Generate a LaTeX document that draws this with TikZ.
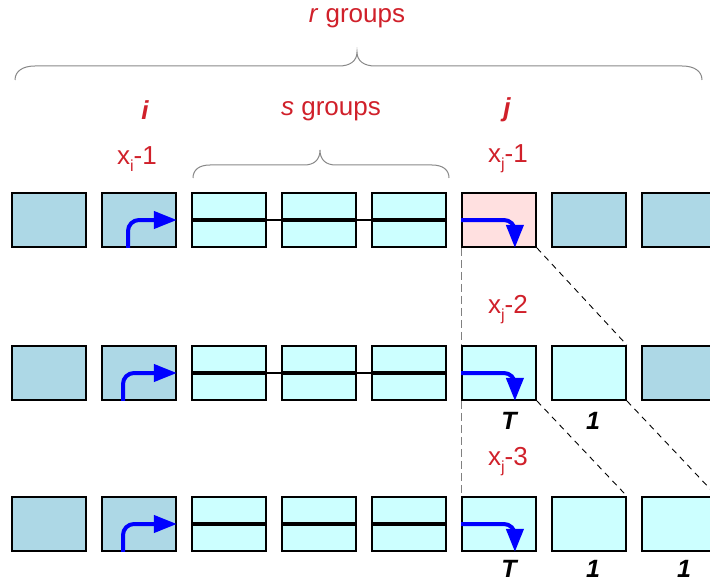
\documentclass[tikz,border=0pt]{standalone}
\usepackage{fontspec}
\setmainfont{Liberation Sans}
\usepackage{tikz}
\usetikzlibrary{positioning,arrows.meta}
\definecolor{cellblue}{HTML}{ADD8E6}
\definecolor{cellcyan}{HTML}{CCFFFF}
\definecolor{cellpink}{HTML}{FFE0E0}
\definecolor{labelred}{HTML}{D0202A}
\definecolor{bracegray}{HTML}{888888}
\tikzset{
  flowarrow/.style={-{Triangle[length=23pt, width=17pt]}, line width=4pt, blue, rounded corners=11pt},
  darkcell/.style={draw, line width=1.8pt, fill=cellblue, minimum width=74pt, minimum height=54pt, inner sep=0pt},
  lightcell/.style={draw, line width=1.8pt, fill=cellcyan, minimum width=74pt, minimum height=54pt, inner sep=0pt},
  markcell/.style={draw, line width=1.8pt, fill=cellpink, minimum width=74pt, minimum height=54pt, inner sep=0pt},
  linkbar/.style={line width=4pt},
  linkthin/.style={line width=2pt},
  grouplabel/.style={text=labelred, font=\fontsize{26}{30}\selectfont, inner sep=0pt},
  countlabel/.style={font=\fontsize{25}{30}\selectfont\bfseries\itshape, inner sep=0pt},
  bracepath/.style={bracegray, line width=1pt},
  vguide/.style={gray, dashed, dash pattern=on 8pt off 4pt, line width=1.1pt},
  dguide/.style={black, dash pattern=on 6pt off 5pt, line width=0.9pt}
}
\newcommand{\xsub}[1]{x\raisebox{-7pt}{\fontsize{16}{16}\selectfont #1}}

\begin{document}
\begin{tikzpicture}[x=1pt, y=-1pt]
  \useasboundingbox (0,0) rectangle (710,583);
  % labels on top
  \node[grouplabel] (rg) at (357,18) {\textit{r} groups};
  \draw[bracepath] (15,80) .. controls (15,71) and (23,66) .. (35,66) -- (339,66)
    .. controls (350,66) and (357,61) .. (357,52) .. controls (357,61) and (364,66) .. (375,66)
    -- (682,66) .. controls (694,66) and (702,71) .. (702,80);
  \node[grouplabel, font=\fontsize{26}{30}\selectfont\bfseries\itshape] (li) at (145,110) {i};
  \node[grouplabel] (sg) at (331,111) {\textit{s} groups};
  \node[grouplabel, font=\fontsize{26}{30}\selectfont\bfseries\itshape] (lj) at (507,110) {j};
  \node[grouplabel] (xi1) at (137,159) {\xsub{i}-1};
  \node[grouplabel] (xj1) at (508,159) {\xsub{j}-1};
  \draw[bracepath] (193,178) .. controls (193,170) and (199,165) .. (210,165) -- (304,165)
    .. controls (314,165) and (320,160) .. (320,150) .. controls (320,160) and (326,165) .. (336,165)
    -- (432,165) .. controls (443,165) and (449,170) .. (449,178);

  % row a
  \node[darkcell] (a1) at (49,220) {};
  \node[darkcell] (a2) at (139,220) {};
  \node[lightcell] (a3) at (229,220) {};
  \node[lightcell] (a4) at (319,220) {};
  \node[lightcell] (a5) at (409,220) {};
  \node[markcell] (a6) at (499,220) {};
  \node[darkcell] (a7) at (589,220) {};
  \node[darkcell] (a8) at (679,220) {};
  \draw[linkthin] (a3.west) -- (a5.east);
  \draw[linkbar] (a3.west) -- (a3.east);
  \draw[linkbar] (a4.west) -- (a4.east);
  \draw[linkbar] (a5.west) -- (a5.east);
  \draw[flowarrow] ([xshift=-11pt]a2.south) |- (a2.east);
  \draw[flowarrow] (a6.west) -| ([xshift=-22pt]a6.south east);

  % row b
  \node[grouplabel] (xj2) at (508,310) {\xsub{j}-2};
  \node[darkcell] (b1) at (49,373) {};
  \node[darkcell] (b2) at (139,373) {};
  \node[lightcell] (b3) at (229,373) {};
  \node[lightcell] (b4) at (319,373) {};
  \node[lightcell] (b5) at (409,373) {};
  \node[lightcell] (b6) at (499,373) {};
  \node[lightcell] (b7) at (589,373) {};
  \node[darkcell] (b8) at (679,373) {};
  \draw[linkthin] (b3.west) -- (b5.east);
  \draw[linkbar] (b3.west) -- (b3.east);
  \draw[linkbar] (b4.west) -- (b4.east);
  \draw[linkbar] (b5.west) -- (b5.east);
  \draw[flowarrow] ([xshift=-16pt]b2.south) |- (b2.east);
  \draw[flowarrow] (b6.west) -| ([xshift=-22pt]b6.south east);
  \node[countlabel] (tb) at (509,421) {T};
  \node[countlabel] (ob) at (593,421) {1};

  % row c
  \node[grouplabel] (xj3) at (508,462) {\xsub{j}-3};
  \node[darkcell] (c1) at (49,524) {};
  \node[darkcell] (c2) at (139,524) {};
  \node[lightcell] (c3) at (229,524) {};
  \node[lightcell] (c4) at (319,524) {};
  \node[lightcell] (c5) at (409,524) {};
  \node[lightcell] (c6) at (499,524) {};
  \node[lightcell] (c7) at (589,524) {};
  \node[lightcell] (c8) at (679,524) {};
  \draw[linkbar] (c3.west) -- (c3.east);
  \draw[linkbar] (c4.west) -- (c4.east);
  \draw[linkbar] (c5.west) -- (c5.east);
  \draw[flowarrow] ([xshift=-16pt]c2.south) |- (c2.east);
  \draw[flowarrow] (c6.west) -| ([xshift=-22pt]c6.south east);
  \node[countlabel] (tc) at (509,569) {T};
  \node[countlabel] (oc1) at (593,569) {1};
  \node[countlabel] (oc2) at (684,569) {1};

  % guides between rows
  \draw[vguide] (a6.south west) -- (b6.north west);
  \draw[vguide] (b6.south west) -- (c6.north west);
  \draw[dguide] (a6.south east) -- (b7.north east);
  \draw[dguide] (b6.south east) -- (c7.north east);
  \draw[dguide] (b7.south east) -- (c8.north east);
\end{tikzpicture}
\end{document}
